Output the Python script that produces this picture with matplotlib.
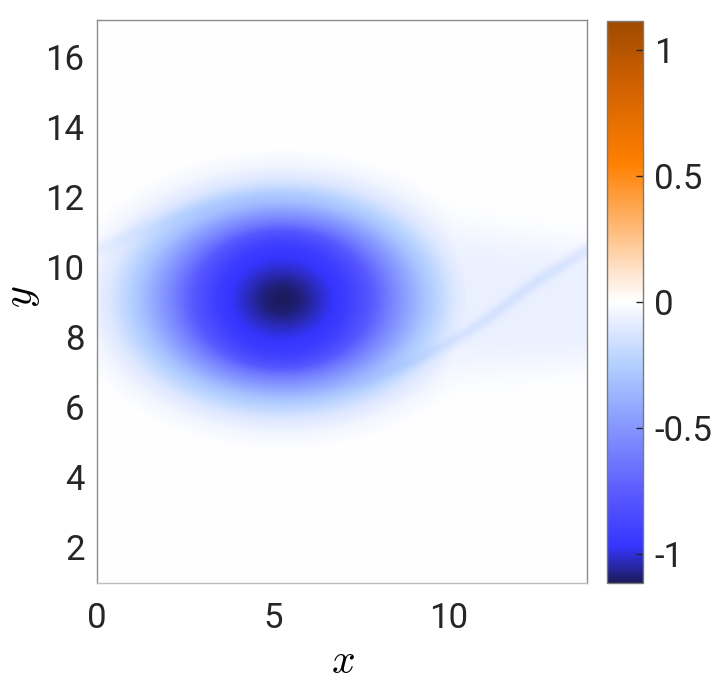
import numpy as np
import matplotlib
matplotlib.use("Agg")
import matplotlib.pyplot as plt
from matplotlib.colors import LinearSegmentedColormap

# ---------------- data ----------------
x_lim = [0.0, 13.93]
y_lim = [0.98, 17.05]
x_ticks = [0, 5, 10]
y_ticks = [2, 4, 6, 8, 10, 12, 14, 16]
cbar_ticks = [-1, -0.5, 0, 0.5, 1]
cbar_ticklabels = ["-1", "-0.5", "0", "0.5", "1"]
c_lim = [-1.115, 1.115]

# colormap anchors (value, colour)
cmap_values = [-1.115, -0.97, -0.75, -0.5, -0.25, -0.08, 0.0, 0.1, 0.3, 0.55, 0.85, 1.115]
cmap_colors = ["#1b1b5c", "#3535ff", "#5c5cff", "#8496ff", "#b3cfff", "#e6edff",
               "#ffffff", "#ffe9d6", "#ffb874", "#ff8000", "#d26200", "#a04a00"]

# vortex: centre, radial profile (distance along x -> value) and local aspect ratio
vortex_center = [5.25, 9.08]
profile_dist = [0.0, 0.5, 1.2, 1.8, 2.5, 3.2, 4.05, 4.9, 5.5, 6.2]
profile_value = [-1.12, -1.09, -1.0, -0.93, -0.78, -0.55, -0.3, -0.11, -0.04, 0.0]
aspect_dist = [0.0, 1.2, 2.0, 2.9, 4.0, 6.5]
aspect_value = [0.78, 0.80, 0.84, 0.74, 0.70, 0.70]

# tail band on the right: centre line and half width
tail_x = [8.0, 10.0, 12.0, 13.93]
tail_yc = [8.8, 9.07, 8.98, 8.93]
tail_half = [2.4, 2.2, 1.95, 1.77]
tail_value = -0.065

# thin filaments (paths) with amplitude along the path and width
filA_x = [13.93, 12.5, 11.2, 10.3, 9.3, 8.5, 7.5, 6.0, 4.5]
filA_y = [10.5, 9.6, 8.6, 8.0, 7.45, 7.08, 6.7, 6.35, 6.25]
filA_amp = [-0.07, -0.075, -0.075, -0.07, -0.055, -0.04, -0.025, -0.012, 0.0]
filA_width = 0.12

filB_x = [0.0, 1.3, 2.6, 3.9, 5.2, 6.5, 7.8]
filB_y = [10.5, 11.1, 11.6, 11.95, 12.1, 12.0, 11.7]
filB_amp = [-0.045, -0.04, -0.035, -0.03, -0.025, -0.015, 0.0]
filB_width = 0.15

# ---------------- field construction ----------------
nx, ny = 420, 480
xg = np.linspace(x_lim[0], x_lim[1], nx)
yg = np.linspace(y_lim[0], y_lim[1], ny)
X, Y = np.meshgrid(xg, yg)

dx = X - vortex_center[0]
dy = Y - vortex_center[1]
d = np.sqrt(dx ** 2 + (dy / 0.75) ** 2)
for _ in range(3):
    q = np.interp(d, aspect_dist, aspect_value)
    d = np.sqrt(dx ** 2 + (dy / q) ** 2)
W = np.interp(d, profile_dist, profile_value)

yc = np.interp(X, tail_x, tail_yc)
hw = np.interp(X, tail_x, tail_half)
ramp = np.clip((X - 8.0) / 2.0, 0, 1)
ramp = ramp * ramp * (3 - 2 * ramp)
band = tail_value * np.exp(-np.abs((Y - yc) / hw) ** 4) * ramp
W = np.where(band < W, band, W)


def path_field(px, py, amp, width):
    px = np.asarray(px, float)
    py = np.asarray(py, float)
    seg = np.hypot(np.diff(px), np.diff(py))
    s = np.concatenate([[0], np.cumsum(seg)])
    ss = np.linspace(0, s[-1], 300)
    sx = np.interp(ss, s, px)
    sy = np.interp(ss, s, py)
    sa = np.interp(ss, s, amp)
    out = np.zeros(X.shape)
    dmin = np.full(X.shape, 1e9)
    for a, b, c in zip(sx, sy, sa):
        dd = (X - a) ** 2 + (Y - b) ** 2
        closer = dd < dmin
        dmin = np.where(closer, dd, dmin)
        out = np.where(closer, c, out)
    return out * np.exp(-dmin / (2 * width ** 2))


W = W + path_field(filA_x, filA_y, filA_amp, filA_width)
W = W + path_field(filB_x, filB_y, filB_amp, filB_width)

# ---------------- plotting ----------------
plt.rcParams["font.family"] = ["Roboto", "DejaVu Sans"]
plt.rcParams["mathtext.fontset"] = "cm"

cmap = LinearSegmentedColormap.from_list(
    "vort", list(zip([(v - c_lim[0]) / (c_lim[1] - c_lim[0]) for v in cmap_values], cmap_colors)), N=512)

fig = plt.figure(figsize=(7.18, 6.90), dpi=100)
ax = fig.add_axes([0.1351, 0.1551, 0.6825, 0.8159])
cax = fig.add_axes([0.8454, 0.1551, 0.0501, 0.8145])

im = ax.imshow(W, origin="lower", extent=[x_lim[0], x_lim[1], y_lim[0], y_lim[1]],
               cmap=cmap, vmin=c_lim[0], vmax=c_lim[1], aspect="auto", interpolation="bicubic")
ax.set_xlim(x_lim)
ax.set_ylim(y_lim)
ax.set_xticks(x_ticks)
ax.set_yticks(y_ticks)
ax.tick_params(length=0, labelsize=25, labelcolor="#262626")
ax.tick_params(axis="x", pad=14)
ax.tick_params(axis="y", pad=9)
for side, sp in ax.spines.items():
    sp.set_color("#8c8c8c" if side != "bottom" else "#bdbdbd")
    sp.set_linewidth(1.0)

ax.set_xlabel(r"$x$", fontsize=30)
ax.xaxis.set_label_coords(0.502, -0.140)
ax.xaxis.label.set_va("center")
ax.set_ylabel(r"$y$", fontsize=30)
ax.yaxis.set_label_coords(-0.155, 0.508)
ax.yaxis.label.set_va("center")

cb = fig.colorbar(im, cax=cax)
cb.set_ticks(cbar_ticks)
cb.set_ticklabels(cbar_ticklabels)
cax.tick_params(direction="in", length=5, width=1, color="#262626",
                labelsize=25, labelcolor="#262626", pad=8)
cb.outline.set_edgecolor("#7a7a7a")
cb.outline.set_linewidth(1.0)

fig.savefig("out.png", dpi=100)
